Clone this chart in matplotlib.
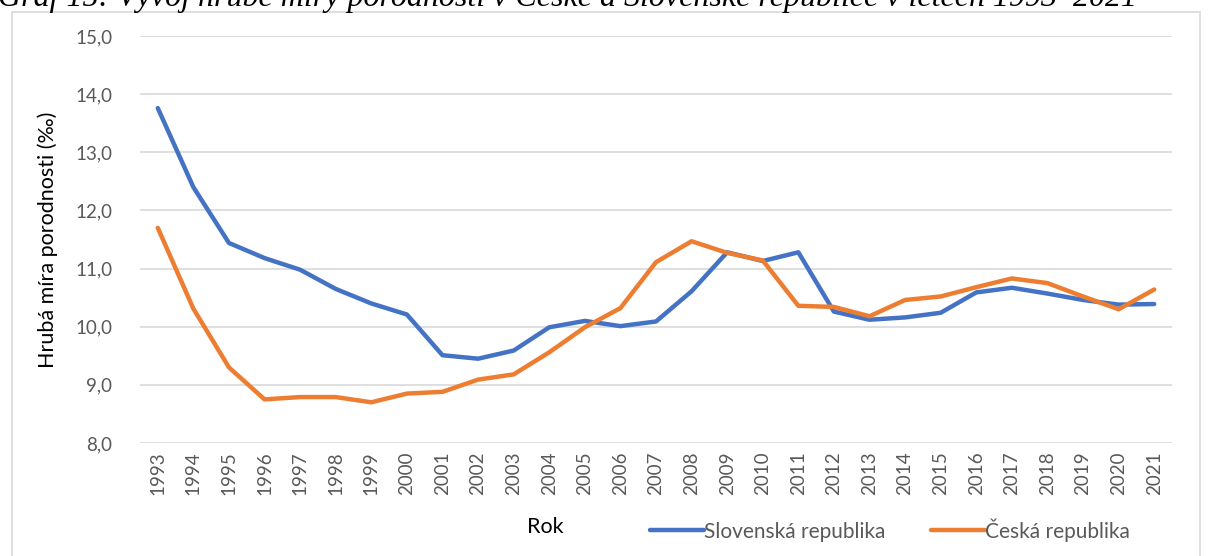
import numpy as np
import matplotlib.pyplot as plt
from matplotlib.patches import Rectangle

years = list(range(1993, 2022))
slovensko = [13.76, 12.40, 11.44, 11.18, 10.98, 10.65, 10.40, 10.21, 9.51, 9.45,
             9.59, 9.99, 10.10, 10.01, 10.09, 10.61, 11.28, 11.13, 11.28, 10.26,
             10.12, 10.16, 10.24, 10.59, 10.67, 10.57, 10.46, 10.38, 10.39]
cesko = [11.70, 10.31, 9.30, 8.75, 8.79, 8.79, 8.70, 8.85, 8.88, 9.09,
         9.18, 9.56, 9.99, 10.32, 11.11, 11.47, 11.27, 11.14, 10.36, 10.34,
         10.18, 10.46, 10.52, 10.68, 10.83, 10.75, 10.52, 10.30, 10.64]
yticks = [8, 9, 10, 11, 12, 13, 14, 15]

plt.rcParams['font.family'] = ['Lato', 'DejaVu Sans']

fig = plt.figure(figsize=(12.08, 5.56), dpi=100)
ax = fig.add_axes([140 / 1208, 1 - 443 / 556, (1172 - 140) / 1208, (443 - 36) / 556])

# border of the chart area
fig.patches.append(Rectangle((12 / 1208, -0.1), (1200 - 12) / 1208, 1.1 - 12 / 556,
                             transform=fig.transFigure, fill=False,
                             edgecolor='#d9d9d9', linewidth=1.2, clip_on=False))

# caption, cut by the top edge like in the original
fig.text(-2 / 1208, 1 + 4 / 556, "Graf 15: Vývoj hrubé míry porodnosti v České a Slovenské republice v letech 1993–2021",
         family='Liberation Serif', style='italic', fontsize=23, ha='left', va='center')

ax.plot(years, slovensko, color='#4472C4', lw=3.2, solid_capstyle='round', label='Slovenská republika')
ax.plot(years, cesko, color='#ED7D31', lw=3.2, solid_capstyle='round', label='Česká republika')

ax.set_ylim(8, 15)
ax.set_xlim(1992.5, 2021.5)
ax.set_yticks(yticks)
ax.set_yticklabels([f"{v:.1f}".replace('.', ',') for v in yticks])
ax.set_xticks(years)
ax.set_xticklabels([str(y) for y in years], rotation=90)
ax.tick_params(axis='both', length=0, labelsize=13.5, colors='#595959')
ax.tick_params(axis='x', pad=6)
ax.tick_params(axis='y', pad=20)
ax.grid(axis='y', color='#d9d9d9', lw=1.2)
ax.set_axisbelow(True)
for s in ax.spines.values():
    s.set_visible(False)

fig.text(48 / 1208, 1 - 240 / 556, "Hrubá míra porodnosti (‰)", rotation=90,
         ha='center', va='center', fontsize=15.5)
fig.text(545 / 1208, 1 - 527 / 556, "Rok", ha='center', va='center', fontsize=15.5)

ax.legend(loc='center', bbox_to_anchor=(890 / 1208, 1 - 530 / 556), bbox_transform=fig.transFigure,
          ncol=2, frameon=False, fontsize=15, handlelength=2.6, handletextpad=0.0,
          columnspacing=2.2, labelcolor='#595959')

fig.savefig('out.png', dpi=100)
